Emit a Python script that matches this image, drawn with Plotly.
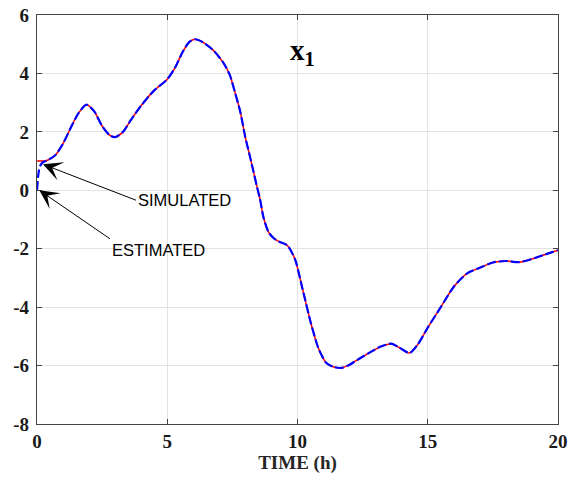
import plotly.graph_objects as go

# Simulated state x1
sim_t = [0, 0.2, 0.4, 0.7, 1.0, 1.3, 1.6, 1.9, 2.2, 2.5, 2.8, 3.0, 3.3, 3.6, 4.0, 4.5,
         5.0, 5.3, 5.6, 5.85, 6.07, 6.38, 6.77, 7.15, 7.4, 7.6, 7.8, 8.0, 8.15, 8.3, 8.45,
         8.56, 8.7, 8.9, 9.1, 9.3, 9.6, 9.9, 10.2, 10.5, 10.8, 11.1, 11.4, 11.7, 12.0, 12.4,
         12.8, 13.2, 13.6, 13.9, 14.3, 14.6, 15.0, 15.5, 16.0, 16.5, 17.0, 17.5, 18.0, 18.5,
         19.0, 19.5, 20.0]
sim_v = [1.0, 1.0, 1.03, 1.2, 1.6, 2.15, 2.65, 2.93, 2.7, 2.2, 1.88, 1.82, 2.0, 2.4, 2.9, 3.42,
         3.8, 4.2, 4.75, 5.08, 5.17, 5.06, 4.79, 4.37, 3.95, 3.35, 2.7, 1.8, 1.25, 0.68, 0.1,
         -0.3, -0.95, -1.45, -1.65, -1.76, -1.88, -2.35, -3.4, -4.5, -5.4, -5.9, -6.05, -6.08, -5.97, -5.75,
         -5.54, -5.35, -5.25, -5.38, -5.57, -5.3, -4.7, -4.0, -3.3, -2.85, -2.65, -2.47, -2.42, -2.46,
         -2.35, -2.2, -2.05]

# Estimated state: initial transient, then follows the simulated one
est_head_t = [0, 0.04, 0.08, 0.13, 0.2, 0.3]
est_head_v = [0, 0.45, 0.7, 0.85, 0.94, 0.99]

est_t = est_head_t + [t for t in sim_t if t >= 0.4]
est_v = est_head_v + [v for t, v in zip(sim_t, sim_v) if t >= 0.4]

x_ticks = [0, 5, 10, 15, 20]
y_ticks = [-8, -6, -4, -2, 0, 2, 4, 6]
x_ticklabels = ["0", "5", "10", "15", "20"]
y_ticklabels = ["-8", "-6", "-4", "-2", "0", "2", "4", "6"]

fig = go.Figure()
fig.add_trace(go.Scatter(x=sim_t, y=sim_v, mode="lines",
                         line=dict(color="#ff0000", width=1.5, shape="spline", smoothing=0.7),
                         name="SIMULATED", showlegend=False))
fig.add_trace(go.Scatter(x=est_t, y=est_v, mode="lines",
                         line=dict(color="#0000ff", width=2.2, dash="9px,3px", shape="spline", smoothing=0.7),
                         name="ESTIMATED", showlegend=False))

axis_common = dict(
    showline=True, linecolor="#444444", linewidth=1.2, mirror="ticks",
    ticks="inside", ticklen=5, tickcolor="#444444", tickwidth=1,
    showgrid=True, gridcolor="#e3e3e3", gridwidth=1, zeroline=False,
    automargin=False,
    tickfont=dict(family="Liberation Serif", size=19, color="#1a1a1a", weight="bold"),
)

fig.update_xaxes(range=[0, 20], tickvals=x_ticks, ticktext=x_ticklabels, **axis_common,
                 title=dict(text="<b>TIME (h)</b>", standoff=4,
                            font=dict(family="Liberation Serif", size=19, color="#262626")))
fig.update_yaxes(range=[-8, 6], tickvals=y_ticks, ticktext=y_ticklabels,
                 ticklabelstandoff=3, **axis_common)

sans = dict(family="Liberation Sans", size=16.5, color="#000000")
arrow_style = dict(showarrow=True, arrowhead=3, arrowsize=3.2, arrowwidth=1,
                   arrowcolor="#000000", axref="x", ayref="y", xref="x", yref="y")
fig.add_annotation(x=0.23, y=0.89, ax=3.8, ay=-0.34, text="SIMULATED",
                   xanchor="left", yanchor="middle", font=sans, **arrow_style)
fig.add_annotation(x=0.09, y=0.0, ax=2.8, ay=-1.66, text="ESTIMATED",
                   xanchor="left", yanchor="top", font=sans, **arrow_style)
fig.add_annotation(x=10.2, y=4.72, xref="x", yref="y", text="<b>x<sub>1</sub></b>",
                   showarrow=False,
                   font=dict(family="Liberation Serif", size=29, color="#000000"))

fig.update_layout(width=570, height=487, margin=dict(l=37, r=12, t=15, b=63),
                  plot_bgcolor="white", paper_bgcolor="white")

fig.write_html("out.html")
